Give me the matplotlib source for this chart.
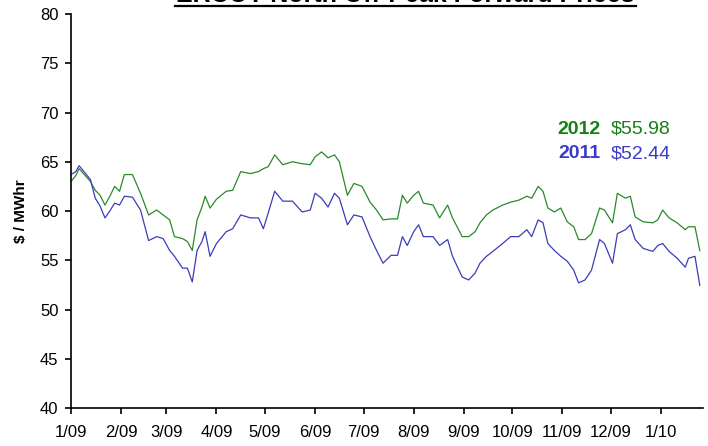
import matplotlib
matplotlib.use('Agg')
import matplotlib.pyplot as plt
import matplotlib.dates as mdates
from matplotlib.lines import Line2D
import pandas as pd

plt.rcParams['font.family'] = ['Liberation Sans', 'DejaVu Sans']

# days since 1/1/09 at which the curves were read
days = [0, 3, 5, 12, 15, 18, 21, 24, 27, 30, 33, 38, 43, 48, 53, 57, 61, 64, 69, 72,
        75, 78, 81, 83, 86, 90, 96, 100, 105, 111, 116, 119, 122, 126, 131, 137, 143, 148, 151, 155,
        159, 163, 166, 171, 175, 180, 185, 189, 193, 198, 202, 205, 208, 212, 215, 218, 224, 228, 233, 236,
        242, 246, 250, 253, 257, 261, 267, 272, 277, 282, 285, 289, 292, 295, 299, 303, 307, 311, 314, 318,
        322, 327, 330, 335, 338, 343, 346, 349, 354, 360, 363, 366, 370, 375, 380, 382, 386, 389]

cal2012 = [63.0, 63.6, 64.3, 63.0, 62.1, 61.6, 60.6, 61.5, 62.5, 62.0, 63.7, 63.7, 61.8, 59.6, 60.1, 59.6, 59.1, 57.4, 57.2, 56.9,
           56.0, 59.1, 60.4, 61.5, 60.3, 61.2, 62.0, 62.1, 64.0, 63.8, 64.0, 64.3, 64.5, 65.7, 64.7, 65.0, 64.8, 64.7, 65.5, 66.0,
           65.4, 65.7, 65.0, 61.6, 62.8, 62.5, 60.9, 60.1, 59.1, 59.2, 59.2, 61.6, 60.8, 61.6, 62.0, 60.8, 60.6, 59.3, 60.6, 59.3,
           57.4, 57.4, 57.9, 58.8, 59.6, 60.1, 60.6, 60.9, 61.1, 61.5, 61.3, 62.5, 62.0, 60.3, 59.9, 60.3, 58.9, 58.4, 57.1, 57.1,
           57.7, 60.3, 60.1, 58.8, 61.8, 61.3, 61.5, 59.4, 58.9, 58.8, 59.1, 60.1, 59.3, 58.8, 58.1, 58.4, 58.4, 55.98]

cal2011 = [63.7, 64.0, 64.6, 63.2, 61.3, 60.5, 59.3, 60.0, 60.8, 60.6, 61.5, 61.4, 60.1, 57.0, 57.4, 57.2, 56.0, 55.4, 54.2, 54.2,
           52.8, 56.0, 56.9, 57.9, 55.4, 56.7, 57.9, 58.2, 59.6, 59.3, 59.3, 58.2, 59.8, 62.0, 61.0, 61.0, 59.9, 60.1, 61.8, 61.3,
           60.4, 61.8, 61.3, 58.6, 59.6, 59.4, 57.4, 56.0, 54.7, 55.5, 55.5, 57.4, 56.5, 57.9, 58.6, 57.4, 57.4, 56.5, 57.1, 55.4,
           53.3, 53.0, 53.7, 54.7, 55.4, 55.9, 56.7, 57.4, 57.4, 58.1, 57.4, 59.1, 58.8, 56.7, 56.0, 55.4, 54.9, 54.0, 52.7, 53.0,
           54.0, 57.1, 56.7, 54.7, 57.7, 58.1, 58.6, 57.1, 56.2, 55.9, 56.5, 56.7, 55.9, 55.2, 54.3, 55.2, 55.4, 52.44]

dates = pd.Timestamp('2009-01-01') + pd.to_timedelta(days, unit='D')

green = '#2a8a2a'
blue = '#3c3cb8'

fig = plt.figure(figsize=(7.08, 4.46), dpi=100)
ax = fig.add_axes([0.1003, 0.0852, 0.8927, 0.8834])

ax.plot(dates, cal2012, color=green, lw=0.9)
ax.plot(dates, cal2011, color=blue, lw=0.9)

ax.set_xlim(pd.Timestamp('2009-01-01'), pd.Timestamp('2010-01-27'))
ax.set_ylim(40, 80)
ax.set_yticks(range(40, 81, 5))
ax.xaxis.set_major_locator(mdates.MonthLocator())
ax.xaxis.set_major_formatter(mdates.DateFormatter('%-m/%y'))

for s in ['top', 'right']:
    ax.spines[s].set_visible(False)
ax.spines['left'].set_linewidth(1.2)
ax.spines['bottom'].set_linewidth(1.2)
ax.tick_params(axis='both', labelsize=12, length=4, width=1.2)
ax.tick_params(axis='x', pad=8)
ax.tick_params(axis='y', pad=5)
ax.set_ylabel('$ / MWhr', fontsize=11, fontweight='bold', labelpad=9)

ax.text(0.837, 0.708, '2012', transform=ax.transAxes, ha='right', va='center',
        fontsize=14, fontweight='bold', color='#168016')
ax.text(0.854, 0.708, '$55.98', transform=ax.transAxes, ha='left', va='center',
        fontsize=14, color='#168016')
ax.text(0.837, 0.645, '2011', transform=ax.transAxes, ha='right', va='center',
        fontsize=14, fontweight='bold', color='#3a3acc')
ax.text(0.854, 0.645, '$52.44', transform=ax.transAxes, ha='left', va='center',
        fontsize=14, color='#3a3acc')

# title sits mostly above the top edge in the original
fig.text(0.572, 1 - 2 / 446, 'ERCOT North Off-Peak Forward Prices', ha='center', va='baseline',
         fontsize=18, fontweight='bold')
fig.add_artist(Line2D([175 / 708, 636 / 708], [1 - 5.5 / 446] * 2, color='black', lw=1.6))

fig.savefig('out.png', dpi=100)
